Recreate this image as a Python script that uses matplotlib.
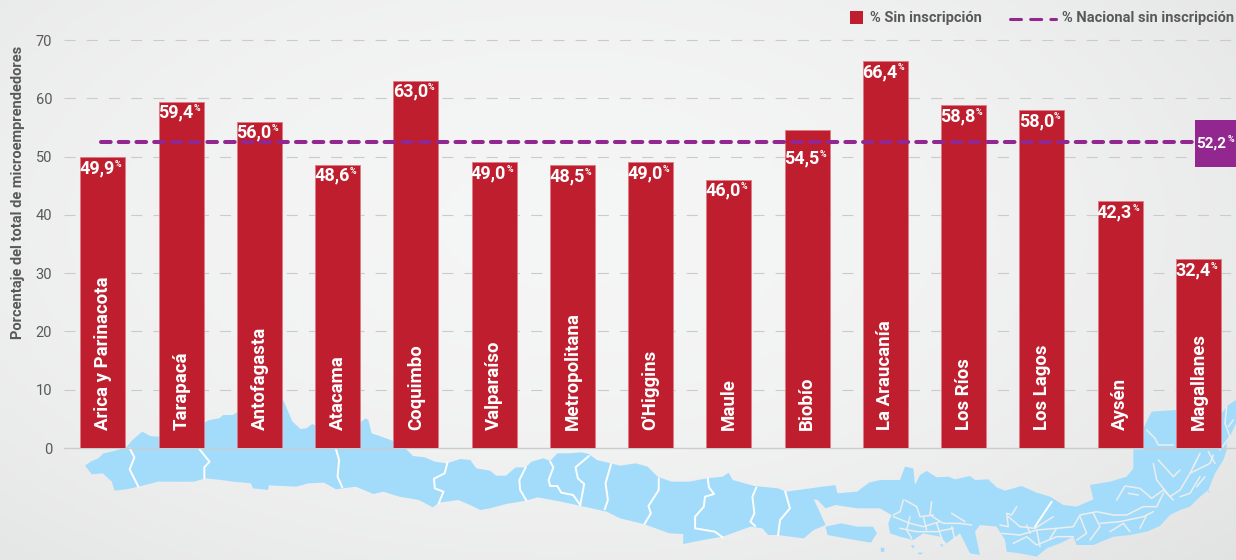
import matplotlib
matplotlib.use('Agg')
import matplotlib.pyplot as plt
import numpy as np
from matplotlib.patches import Polygon, Rectangle

plt.rcParams['font.family'] = ['Roboto', 'DejaVu Sans']

regions = ['Arica y Parinacota', 'Tarapacá', 'Antofagasta', 'Atacama', 'Coquimbo',
           'Valparaíso', 'Metropolitana', "O'Higgins", 'Maule', 'Biobío',
           'La Araucanía', 'Los Ríos', 'Los Lagos', 'Aysén', 'Magallanes']
sin_inscripcion = [49.9, 59.4, 56.0, 48.6, 63.0, 49.0, 48.5, 49.0, 46.0, 54.5,
                   66.4, 58.8, 58.0, 42.3, 32.4]
value_labels = ['49,9', '59,4', '56,0', '48,6', '63,0', '49,0', '48,5', '49,0', '46,0', '54,5',
                '66,4', '58,8', '58,0', '42,3', '32,4']
national_line = 52.5
national_label = '52,2'
yticks = [0, 10, 20, 30, 40, 50, 60, 70]

RED = '#BE1E2D'
PURPLE = '#92278F'
GREY = '#58595B'
MAP = '#A2DCFA'
BG = '#EDEEEF'

# map outline (z1 = left crop, z2 = middle crop, z3 = south crop)
z1_top = [(215, 257), (232, 243), (248, 236), (262, 220), (285, 214), (318, 204), (335, 180), (360, 155),
          (380, 168), (400, 170), (514, 130), (530, 120), (555, 115), (565, 105), (590, 105), (598, 98),
          (712, 48), (740, 125), (760, 147), (775, 145), (790, 132), (796, 135), (909, 130), (925, 115),
          (932, 120), (940, 160), (965, 170), (995, 183), (1028, 208), (1045, 228), (1075, 232), (1100, 245),
          (1130, 250), (1165, 237), (1190, 240), (1205, 265), (1240, 272), (1255, 287), (1280, 287),
          (1305, 262), (1330, 262), (1345, 245), (1375, 235), (1392, 243), (1410, 220), (1440, 220),
          (1470, 217), (1490, 222), (1510, 240), (1545, 250)]
z2_top = [(0, 257), (40, 250), (70, 260), (95, 290), (130, 305), (175, 305), (220, 295), (260, 290), (275, 278),
          (285, 300), (340, 318), (400, 325), (420, 335), (500, 322), (545, 315), (550, 340), (600, 335),
          (630, 308)]
z3_top = [(0, 240), (60, 240), (75, 200), (100, 205), (105, 255), (120, 225), (140, 213), (170, 232), (205, 230),
          (225, 238), (270, 228), (285, 240), (325, 238), (350, 262), (375, 272), (425, 258), (470, 278),
          (510, 290), (550, 315), (590, 320), (640, 298), (630, 255), (690, 245), (740, 230), (760, 205),
          (760, 148), (790, 148), (790, 85), (815, 35), (888, 30), (888, 145), (1024, 145), (1024, 40),
          (1045, 15), (1068, 0), (1068, 70), (1040, 130)]
z3_bottom = [(1040, 150), (1030, 180), (1005, 220), (985, 270), (960, 290), (930, 320), (900, 330), (870, 345),
             (840, 378), (800, 395), (750, 405), (700, 410), (640, 435), (590, 435), (580, 410), (540, 430),
             (500, 445), (470, 470), (420, 460), (380, 455), (375, 420), (350, 380), (300, 375), (285, 395),
             (300, 465), (270, 460), (240, 400), (200, 430), (180, 410), (130, 400), (100, 420), (60, 410),
             (30, 400), (25, 370), (35, 345), (0, 325)]
z2_bottom = [(600, 385), (545, 375), (520, 385), (500, 360), (490, 358), (505, 395), (520, 435), (490, 450),
             (465, 475), (430, 470), (400, 465), (375, 465), (360, 445), (330, 440), (260, 470), (210, 480),
             (160, 492), (160, 462), (125, 460), (60, 432), (0, 415)]
z1_bottom = [(1535, 395), (1470, 378), (1420, 365), (1360, 352), (1330, 362), (1280, 372), (1240, 385), (1215, 390),
             (1195, 378), (1160, 360), (1110, 368), (1095, 382), (1060, 360), (1010, 350), (970, 335), (945, 342),
             (900, 320), (850, 328), (820, 308), (780, 310), (750, 320), (680, 316), (678, 330), (640, 325),
             (635, 310), (590, 305), (560, 300), (520, 295), (490, 305), (460, 305), (400, 305), (350, 320),
             (320, 328), (290, 332), (283, 305), (260, 280), (232, 283)]
z2_island = [(520, 440), (560, 430), (600, 440), (640, 440), (650, 460), (635, 488), (570, 475), (525, 465)]
z3_small = [[(2, 443), (13, 443), (13, 455), (3, 456)], [(112, 458), (130, 458), (120, 465)],
            [(985, 272), (990, 274), (986, 279)], [(92, 436), (104, 436), (100, 446)],
            [(180, 432), (190, 434), (186, 442)]]
# white region borders
z1_borders = [[(328, 205), (340, 232), (328, 268), (350, 320)],
              [(505, 208), (530, 245), (517, 262), (517, 295)],
              [(850, 208), (858, 240), (854, 290), (866, 322)],
              [(1132, 248), (1125, 280), (1098, 296), (1100, 325), (1122, 335), (1110, 370)],
              [(1330, 262), (1314, 300), (1316, 330), (1332, 362)],
              [(1392, 245), (1400, 262), (1388, 300), (1392, 318), (1410, 318), (1420, 338), (1450, 345), (1468, 375)],
              [(1490, 228), (1456, 262), (1462, 295), (1478, 312), (1468, 375)],
              [(1546, 252), (1532, 310), (1538, 360), (1530, 388)]]
z2_borders = [[(98, 295), (98, 330), (72, 378), (78, 400), (62, 432)],
              [(222, 295), (225, 322), (238, 342), (215, 350), (212, 380), (190, 410), (190, 445), (240, 455), (260, 472)],
              [(345, 322), (335, 350), (340, 400), (330, 425), (342, 438)],
              [(418, 335), (430, 385), (405, 420), (400, 465)]]
z3_borders = [[(515, 305), (465, 380)]]
# channels and fjords in the south, drawn in the background colour
z3_fjords = [[(70, 300), (60, 335), (40, 345)], [(75, 300), (110, 320), (120, 350), (160, 345)],
             [(155, 305), (150, 345), (190, 370), (240, 370), (275, 375)], [(215, 340), (255, 365)],
             [(40, 350), (90, 370), (130, 380), (180, 365)], [(60, 385), (110, 395), (170, 395), (220, 385)],
             [(90, 350), (80, 390), (95, 415)], [(130, 350), (140, 390)], [(170, 370), (190, 430)],
             [(215, 380), (225, 420)], [(410, 320), (395, 345), (380, 340), (385, 380), (360, 375)],
             [(385, 350), (420, 380), (465, 385), (520, 350)],
             [(365, 400), (420, 405), (470, 390), (530, 385), (580, 380), (600, 345), (650, 335), (700, 345)],
             [(400, 430), (440, 410), (470, 435), (530, 410), (580, 410)], [(470, 390), (480, 440)],
             [(440, 375), (450, 400)], [(530, 385), (510, 415)], [(600, 350), (620, 400), (590, 420)],
             [(640, 340), (660, 380), (630, 420)], [(700, 345), (740, 345), (790, 320), (830, 320), (850, 280)],
             [(660, 370), (720, 365), (790, 350), (820, 335)], [(690, 395), (730, 370), (750, 395)],
             [(780, 385), (800, 345)], [(710, 300), (735, 258), (780, 265), (815, 295), (850, 270), (880, 300)],
             [(745, 280), (775, 285)], [(820, 190), (830, 240), (870, 290), (900, 270), (930, 220), (950, 180)],
             [(835, 180), (880, 230), (900, 210)], [(900, 290), (930, 280), (960, 230)],
             [(930, 220), (990, 190), (1000, 165)], [(950, 260), (975, 230)],
             [(800, 90), (825, 115), (835, 135), (880, 135)], [(1040, 20), (1035, 70), (1050, 110), (1020, 150)],
             [(1060, 60), (1045, 80)], [(960, 160), (940, 200)], [(985, 155), (1005, 190)]]


def from_z1(pts):
    return [(x / 2.53, 380 + y / 3) for x, y in pts]


def from_z2(pts):
    return [(620 + x / 2.53, 380 + y / 3) for x, y in pts]


def from_z3(pts):
    return [(880 + x / 3, 400 + y / 3) for x, y in pts]


def draw_line(a, xy, color, lw):
    xy = np.array(xy)
    a.plot(xy[:, 0], xy[:, 1], color=color, lw=lw, solid_capstyle='round')


fig = plt.figure(figsize=(12.36, 5.6), dpi=100)

# background and map, in pixel coordinates
bg_ax = fig.add_axes([0, 0, 1, 1], zorder=0)
gx, gy = np.meshgrid(np.linspace(0, 1, 300), np.linspace(0, 1, 140))
dist = np.sqrt(((gx - 0.45) / 0.75) ** 2 + ((gy - 0.4) / 0.9) ** 2)
shade = 0.96 - 0.075 * np.clip(dist, 0, 1) ** 2
bg_ax.imshow(np.dstack([shade, shade + 0.002, shade + 0.004]), extent=[0, 1236, 560, 0], aspect='auto')
outline = (from_z1(z1_top) + from_z2(z2_top) + from_z3(z3_top) + from_z3(z3_bottom)
           + from_z2(z2_bottom) + from_z1(z1_bottom))
bg_ax.add_patch(Polygon(outline, closed=True, fc=MAP, ec='none'))
bg_ax.add_patch(Polygon(from_z2(z2_island), closed=True, fc=MAP, ec='none'))
for pts in z3_small:
    bg_ax.add_patch(Polygon(from_z3(pts), closed=True, fc=MAP, ec='none'))
for pts in z3_fjords:
    draw_line(bg_ax, from_z3(pts), BG, 1.1)
for pts in z1_borders:
    draw_line(bg_ax, from_z1(pts), 'white', 1.4)
for pts in z2_borders:
    draw_line(bg_ax, from_z2(pts), 'white', 1.4)
for pts in z3_borders:
    draw_line(bg_ax, from_z3(pts), 'white', 1.4)
bg_ax.set_xlim(0, 1236)
bg_ax.set_ylim(560, 0)
bg_ax.axis('off')

# chart
ax = fig.add_axes([64 / 1236, (560 - 448) / 560, (1236 - 64) / 1236, (448 - 40) / 560], zorder=1)
ax.patch.set_visible(False)
x = np.arange(len(regions))
ax.bar(x, sin_inscripcion, width=0.575, color=RED, edgecolor='#DE7C86', linewidth=0.6, zorder=3)
ax.set_xlim(-0.498, 14.48)
ax.set_ylim(0, 70)
ax.set_yticks(yticks)
ax.set_xticks([])
ax.tick_params(axis='y', length=0, pad=8.5, labelsize=10.5, labelcolor=GREY)
for s in ['top', 'right', 'left']:
    ax.spines[s].set_visible(False)
ax.spines['bottom'].set_color('#CCCCCC')
ax.spines['bottom'].set_linewidth(1)
for v in yticks[1:]:
    ax.axhline(v, color='#CBCBCB', lw=0.8, ls=(0, (10, 10)), zorder=1, clip_on=False)

ax.plot([-0.02, 13.96], [national_line, national_line], color=PURPLE, lw=2.9,
        ls=(0, (2.4, 2.0)), dash_capstyle='round', zorder=4)

for i, name in enumerate(regions):
    ax.annotate(name, (i, 0), xytext=(0, 18), textcoords='offset pixels', rotation=90,
                ha='center', va='bottom', color='white', fontsize=13.4, fontweight='bold', zorder=5)
    dy = -28 if name == 'Biobío' else -11
    ax.annotate(value_labels[i], (i, sin_inscripcion[i]), xytext=(12, dy), textcoords='offset pixels',
                ha='right', va='center', color='white', fontsize=13, fontweight='bold', zorder=5)
    ax.annotate('%', (i, sin_inscripcion[i]), xytext=(12, dy + 4), textcoords='offset pixels',
                ha='left', va='center', color='white', fontsize=6.5, fontweight='bold', zorder=5)

# label box of the national line
bg = fig.add_axes([0, 0, 1, 1], zorder=2)
bg.set_xlim(0, 1236)
bg.set_ylim(560, 0)
bg.axis('off')
bg.add_patch(Rectangle((1195, 120), 41, 47, fc=PURPLE, ec='none'))
bg.text(1234, 143.5, '%', color='white', fontsize=6.5, fontweight='bold', ha='right', va='bottom')
bg.text(1226, 144, national_label, color='white', fontsize=11, fontweight='bold', ha='right', va='center')

# legend
bg.add_patch(Rectangle((850, 11), 13, 13, fc=RED, ec='none'))
bg.text(870, 18, '% Sin inscripción', color=GREY, fontsize=10.5, fontweight='bold', ha='left', va='center')
bg.plot([1010, 1056], [18.5, 18.5], color=PURPLE, lw=2.2, ls=(0, (3.6, 3.0)), dash_capstyle='round')
bg.text(1062, 18, '% Nacional sin inscripción', color=GREY, fontsize=10.5, fontweight='bold', ha='left', va='center')

bg.text(18, 192, 'Porcentaje del total de microemprendedores', color=GREY, fontsize=10.5, fontweight='bold',
        rotation=90, ha='center', va='center')

fig.savefig('out.png', dpi=100)
